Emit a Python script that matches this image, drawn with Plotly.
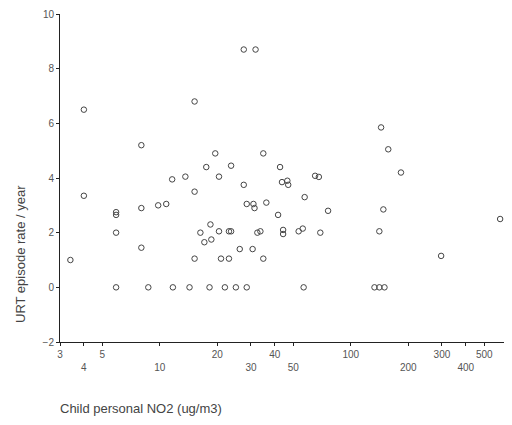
import math
import plotly.graph_objects as go

# Child personal NO2 (ug/m3) and URT episode rate / year
no2 = [3.4, 4.0, 4.0, 5.9, 5.9, 5.9, 5.9, 8.0, 8.0, 8.0, 8.7, 9.8, 10.8, 11.6, 11.7,
       13.6, 14.3, 15.2, 15.2, 15.2, 16.3, 17.1, 17.5, 18.2, 18.4, 18.6, 19.5, 20.4,
       20.4, 20.9, 21.9, 23.0, 23.6, 23.0, 23.6, 25.0, 26.2, 27.5, 27.5, 28.5, 28.5,
       30.6, 30.9, 31.3, 31.7, 32.4, 33.6, 34.8, 34.8, 36.1, 41.6, 42.6, 43.6, 44.2,
       44.2, 46.5, 47.0, 53.3, 56.0, 56.6, 57.3, 65.0, 68.0, 69.2, 76.0, 133, 141,
       150, 144, 148, 141, 157, 183, 297, 605]
urt = [1.0, 6.5, 3.35, 2.75, 2.65, 2.0, 0.0, 5.2, 2.9, 1.45, 0.0, 3.0, 3.05, 3.95, 0.0,
       4.05, 0.0, 6.8, 3.5, 1.05, 2.0, 1.65, 4.4, 0.0, 2.3, 1.75, 4.9, 4.05,
       2.05, 1.05, 0.0, 2.05, 2.05, 1.05, 4.45, 0.0, 1.4, 8.7, 3.75, 3.05, 0.0,
       1.4, 3.05, 2.9, 8.7, 2.0, 2.05, 4.9, 1.05, 3.1, 2.65, 4.4, 3.85, 2.1,
       1.95, 3.9, 3.75, 2.05, 2.15, 0.0, 3.3, 4.08, 4.04, 2.0, 2.8, 0.0, 0.0,
       0.0, 5.85, 2.85, 2.05, 5.05, 4.2, 1.15, 2.5]

x_tickvals = [3, 4, 5, 10, 20, 30, 40, 50, 100, 200, 300, 400, 500]
x_ticktext = ["3", "<br>4", "5", "<br>10", "20", "<br>30", "40", "<br>50",
              "100", "<br>200", "300", "<br>400", "500"]
y_tickvals = [-2, 0, 2, 4, 6, 8, 10]

font = "Liberation Sans, Arial, sans-serif"

fig = go.Figure()
fig.add_trace(go.Scatter(
    x=no2, y=urt, mode="markers",
    marker=dict(symbol="circle-open", size=5.5, color="#444",
                line=dict(width=1, color="#444")),
    showlegend=False, cliponaxis=False,
))

fig.update_layout(
    width=496, height=409,
    margin=dict(l=52, r=0, t=6, b=75, autoexpand=False),
    paper_bgcolor="white", plot_bgcolor="white",
    font=dict(family=font, size=10, color="#444"),
    xaxis=dict(
        type="log", range=[math.log10(3), 2.802], automargin=False,
        tickvals=x_tickvals, ticktext=x_ticktext, tickangle=0,
        showgrid=False, zeroline=False,
        showline=True, linecolor="#222", linewidth=1,
        ticks="outside", ticklen=3, tickcolor="#222",
        tickfont=dict(size=10, color="#555"),
    ),
    yaxis=dict(
        range=[-2, 10], tickvals=y_tickvals, automargin=False,
        showgrid=False, zeroline=False,
        showline=True, linecolor="#222", linewidth=1,
        ticks="outside", ticklen=3, tickcolor="#222",
        tickfont=dict(size=10, color="#555"),
    ),
    annotations=[
        dict(text="Child personal NO2 (ug/m3)", xref="paper", yref="paper",
             x=-0.005, y=-66 / 328, xanchor="left", yanchor="middle",
             showarrow=False, font=dict(size=13, color="#444", family=font)),
        dict(text="URT episode rate / year", xref="paper", yref="paper",
             x=-40 / 444, y=(342 - 254) / 328, xanchor="center", yanchor="middle",
             textangle=-90, showarrow=False,
             font=dict(size=13, color="#444", family=font)),
    ],
)

fig.write_html("out.html")
